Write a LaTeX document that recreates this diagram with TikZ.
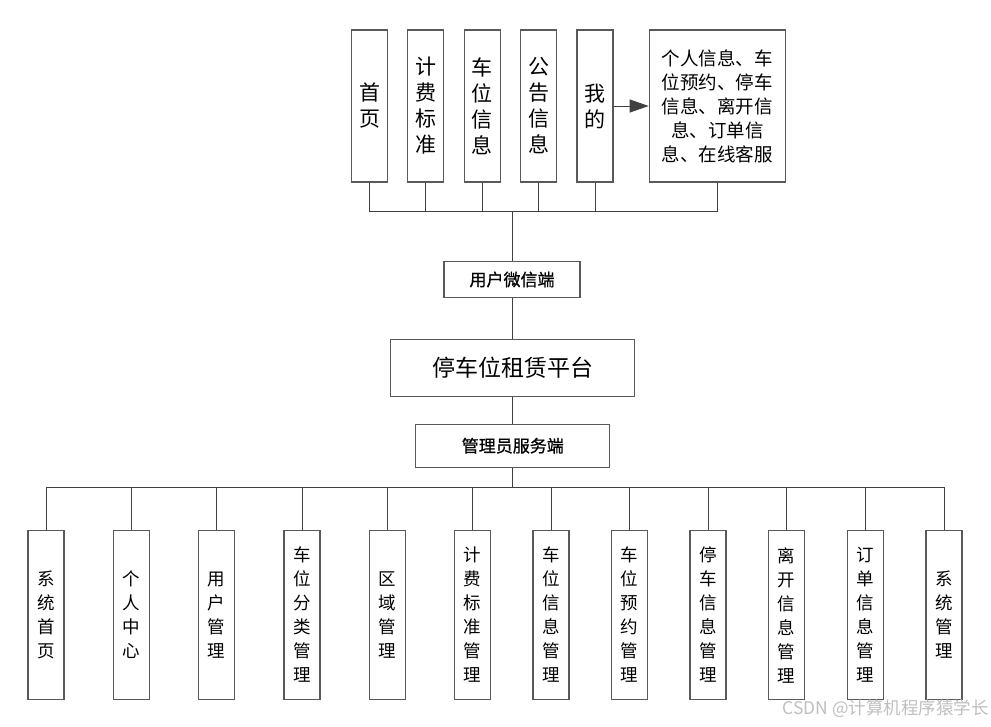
\documentclass[tikz,border=0pt]{standalone}
\usepackage{fontspec}
\setmainfont{Noto Sans CJK SC}
\newfontfamily\semibold[FakeBold=0.8]{Noto Sans CJK SC}
\usetikzlibrary{arrows.meta}
\begin{document}
\begin{tikzpicture}[x=1pt,y=-1pt,
  box/.style={draw=black!65, line width=1.2pt, inner sep=0pt, align=center, fill=white},
  topv/.style={box, minimum width=36pt, minimum height=152pt, font=\fontsize{21}{26}\selectfont},
  bigbox/.style={box, minimum width=136pt, minimum height=152pt, font=\fontsize{18.5}{24}\selectfont},
  botv/.style={box, minimum width=36pt, minimum height=169pt, font=\fontsize{17.5}{24}\selectfont},
  hbox/.style={box, font=\fontsize{17}{20}\semibold},
  conn/.style={draw=black!75, line width=1pt},
]
\useasboundingbox (0,0) rectangle (991,726);
% top row
\node[topv] (t1) at (369.7,106) {首\\页};
\node[topv] (t2) at (425.8,106) {计\\费\\标\\准};
\node[topv] (t3) at (482.3,106) {车\\位\\信\\息};
\node[topv] (t4) at (538.5,106) {公\\告\\信\\息};
\node[topv] (t5) at (595,106) {我\\的};
\node[bigbox] (t6) at (717.3,106) {个人信息、车\\位预约、停车\\信息、离开信\\息、订单信\\息、在线客服};
\draw[conn,-{Triangle[length=19pt,width=13pt]}] (t5.east) -- (t6.west);
\coordinate (tb) at (512,211);
\draw[conn] (t1.south) -- (t1.south |- tb) -- (t6.south |- tb) -- (t6.south);
\foreach \n in {t2,t3,t4,t5} \draw[conn] (\n.south) -- (\n.south |- tb);
% middle
\node[hbox, minimum width=136pt, minimum height=35.6pt] (u) at (512,279.5) {用户微信端};
\node[box, minimum width=244pt, minimum height=57pt, font=\fontsize{23}{26}\selectfont] (p) at (512.7,367.7) {停车位租赁平台};
\node[hbox, minimum width=194pt, minimum height=43pt] (m) at (512.8,445.7) {管理员服务端};
\draw[conn] (tb) -- (u.north);
\draw[conn] (u.south) -- (u.south |- p.north);
\draw[conn] (p.south) -- (p.south |- m.north);
\coordinate (bb) at (512.8,487);
\draw[conn] (m.south) -- (bb);
% bottom row
\node[botv] (b1) at (46,615) {系\\统\\首\\页};
\node[botv] (b2) at (131.3,615) {个\\人\\中\\心};
\node[botv] (b3) at (216.7,615) {用\\户\\管\\理};
\node[botv] (b4) at (302,615) {车\\位\\分\\类\\管\\理};
\node[botv] (b5) at (387.3,615) {区\\域\\管\\理};
\node[botv] (b6) at (472.7,615) {计\\费\\标\\准\\管\\理};
\node[botv] (b7) at (551,615) {车\\位\\信\\息\\管\\理};
\node[botv] (b8) at (629.7,615) {车\\位\\预\\约\\管\\理};
\node[botv] (b9) at (708,615) {停\\车\\信\\息\\管\\理};
\node[botv] (b10) at (786.7,615) {离\\开\\信\\息\\管\\理};
\node[botv] (b11) at (865.3,615) {订\\单\\信\\息\\管\\理};
\node[botv] (b12) at (944,615) {系\\统\\管\\理};
\draw[conn] (b1.north) -- (b1.north |- bb) -- (b12.north |- bb) -- (b12.north);
\foreach \n in {b2,b3,b4,b5,b6,b7,b8,b9,b10,b11} \draw[conn] (\n.north) -- (\n.north |- bb);
% watermark
\node[text=black!25, font=\fontsize{17.5}{19}\selectfont, anchor=east, inner sep=0pt] (wm) at (989,709) {CSDN @计算机程序猿学长};
\end{tikzpicture}
\end{document}
